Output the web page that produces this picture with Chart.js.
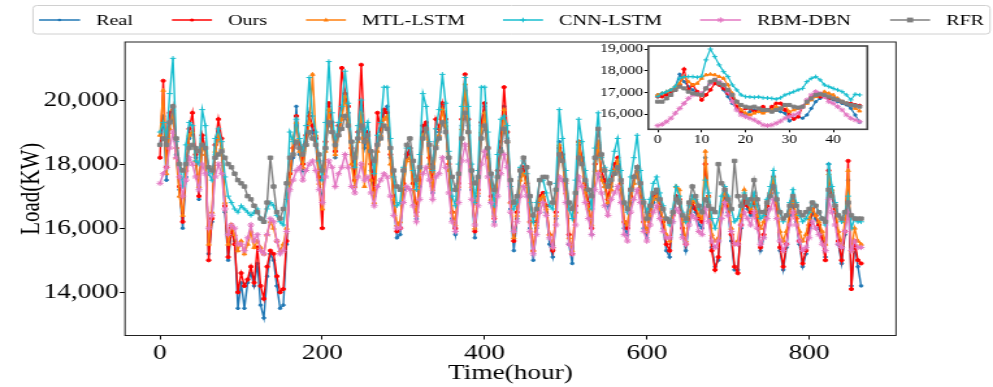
<!DOCTYPE html>
<html><head><meta charset="utf-8">
<script src="https://cdn.jsdelivr.net/npm/chart.js@4.4.1/dist/chart.umd.min.js"></script>
<style>
html,body{margin:0;padding:0;background:#fff;overflow:hidden}
#wrap{position:relative;width:993px;height:387px}
canvas{position:absolute;left:0;top:0}
</style></head><body>
<div id="wrap">
<canvas id="main" width="764" height="387" style="width:993px;height:387px"></canvas>
<canvas id="inset" width="764" height="387" style="width:993px;height:387px"></canvas>
</div>
<script>
// ---------------- DATA ----------------
const seriesNames = ['Real', 'Ours', 'MTL-LSTM', 'CNN-LSTM', 'RBM-DBN', 'RFR'];
const xTicks = [0, 200, 400, 600, 800];
const yTicks = [14000, 16000, 18000, 20000];
const insetXTicks = [0, 10, 20, 30, 40];
const insetYTicks = [16000, 17000, 18000, 19000];

// main panel: one reading every 4 hours (hour 0 ... 864)
const hours = [];
for (let h = 0; h <= 864; h += 4) hours.push(h);

const real = [
18600,19500,17500,19300,19400,18300,17200,16000,17600,18800,
19000,18200,16900,18800,18300,15200,16200,18300,19000,18400,
16500,15000,15900,15600,13500,14300,13500,14300,14600,14200,
14900,13600,13200,14500,15200,15000,14200,13500,13600,15500,
17500,18200,19800,18300,17800,18700,19600,19000,18600,17500,
16800,18500,19800,19200,18200,19000,19500,20200,19600,18300,
17300,18800,19700,18500,18900,17800,17000,18600,19000,19600,
19800,18200,16800,15700,15800,17200,18200,18400,17200,16300,
17300,19000,19200,18000,17100,18700,19000,19800,19300,17800,
16300,15800,17200,19200,20300,19200,17200,15700,17000,19200,
19800,18300,16800,16200,17600,18500,19800,18800,16600,15300,
16300,17600,17800,17300,16000,15000,16000,16900,17000,16500,
15500,15100,16300,18700,18200,17200,15500,14900,16500,18600,
18100,17200,16600,15800,17800,18500,17600,17300,16700,17300,
17800,18000,17200,16000,15800,16800,17400,17800,17000,16000,
15700,16300,16800,17000,16500,16000,15300,15100,16200,16900,
16800,15800,15300,16200,16700,16500,16100,16000,18200,16800,
15400,14800,15000,16500,17000,16500,15600,14700,14700,16000,
16900,16600,16400,16900,16200,15300,15700,16600,17000,17500,
16600,15300,14700,15400,16400,16800,16200,15500,14800,15200,
16000,16500,16300,16000,15600,15100,18000,17000,16500,15500,
14900,15800,17500,14200,15500,14800,14200];

const ours = [
18200,20600,17900,19600,19800,18500,17300,16200,17800,19100,
19600,18300,17000,18900,18500,15000,16300,18600,19400,18800,
16700,15100,16000,15500,14000,14600,14200,14400,14800,14300,
15400,14200,13800,14800,15300,15200,14500,14000,14100,15600,
17700,18500,19500,18600,18000,18900,19500,19200,18800,17600,
16000,18700,19900,19300,18400,19200,21000,20200,19800,18500,
17500,19000,21100,18800,19000,18000,17200,19600,19100,19700,
19600,18300,17000,15900,16000,17400,18300,18500,17400,16500,
17500,19200,19300,18200,17300,19400,19100,19900,19400,18000,
16500,16000,17400,19400,20800,19400,17400,15900,17200,19300,
19900,18500,17000,16300,17800,18700,20400,19000,16800,15600,
16500,17800,17900,17400,16200,15300,16200,17000,17100,16700,
15800,15300,16500,18500,18300,17400,15800,15200,16700,18700,
18200,17400,16800,16000,18000,18600,17800,17500,16900,17500,
18000,18200,17400,16200,16000,17000,17600,17900,17200,16200,
15900,16500,17000,17100,16700,16200,15500,15300,16400,17000,
16900,16000,15500,16400,16800,16600,16300,16200,18000,17000,
15300,14700,15100,16600,17100,16700,15800,14800,14600,16100,
17000,16700,16500,17000,16300,15400,15800,16700,17100,17600,
16700,15400,14800,15500,16500,16900,16300,15600,14900,15300,
16100,16600,16400,16100,15700,15000,17800,17100,16600,15600,
15000,15900,18100,14100,15600,15000,14900];

const mtlLstm = [
18900,20300,17700,19100,19700,18200,17000,16400,17800,18900,
19000,18100,17300,18600,18300,15500,16500,18400,18900,18500,
16800,15500,16100,15800,15300,15600,15200,15500,15900,15400,
15600,15400,15200,15800,16200,16000,15600,15300,15500,16000,
17500,18800,19300,18400,17900,18600,19300,20800,18900,17400,
16600,18400,19700,19000,18300,18900,19400,20100,19300,18000,
17300,18700,19600,17300,18800,17500,16800,18400,18900,19400,
19500,18000,16900,16100,16200,17300,18100,18200,17200,16400,
17400,18900,19100,17900,17200,18600,18900,19700,19200,17800,
16500,16100,17300,19100,20500,19000,17300,16000,17100,19000,
19600,18200,16900,16400,17600,18400,19700,18700,16800,15700,
16400,17500,17700,17300,16200,15300,16100,16900,17000,16600,
15800,15400,16400,18600,18100,17100,15700,15300,16500,18700,
18000,17100,16600,16100,17800,18700,17500,17300,16800,17200,
17800,18100,17200,16200,16100,16900,17400,17800,17100,16200,
15900,16400,16900,17000,16600,16300,15800,15600,16500,17300,
17200,16200,15600,16400,16900,16800,16400,16300,18400,17000,
15800,15600,15700,16700,17100,16800,16000,15500,15600,16400,
17200,16800,16600,17000,16400,16000,16200,16800,17100,17600,
16800,15900,15600,15900,16500,16900,16400,15900,15600,15800,
16300,16600,16400,16200,15900,15500,17700,17200,16700,15900,
15500,16200,17800,15300,16000,15600,15500];

const cnnLstm = [
19000,19300,18800,20200,21300,18700,18000,17300,18600,19300,
19200,18100,18000,19700,19200,17700,17500,18800,19100,18700,
17600,17000,16800,16600,16500,16700,16600,16500,16400,16500,
16600,16300,16200,16600,16800,16700,16400,16200,16100,16900,
19000,18700,19400,18800,18400,19200,20700,19500,19000,18100,
17500,19300,21200,19600,18600,19300,19800,20900,19900,18700,
17900,19200,20000,18900,19300,18400,17700,18900,19300,20400,
20400,18800,17600,16700,16800,17900,18500,18500,17800,17200,
18300,20200,19800,18700,17800,19100,19700,20800,19900,18400,
17000,16700,18000,19800,20700,19800,18000,16800,17800,20400,
20400,19000,17600,16700,18300,19400,19500,19200,17300,16600,
16800,17900,18100,17700,16800,16200,16800,17500,17500,17100,
16700,16600,17400,19700,18800,17800,16600,16300,17500,19400,
18700,17800,17200,16600,18500,19600,18200,17900,17400,17800,
18400,18800,17800,16800,16500,17600,18200,18900,17800,16900,
16500,16900,17400,17600,17100,16700,16300,16100,16600,17300,
17000,16500,16200,16700,17000,16900,16600,16500,17500,17100,
16300,16000,16300,17000,17300,17000,16600,16200,16300,16700,
17100,16900,16700,17100,16700,16300,16400,16900,17300,17800,
17100,16500,16200,16400,16800,17200,16800,16400,16200,16300,
16500,16800,16700,16500,16300,16100,18000,17300,16800,16400,
16200,16500,17000,16000,16300,16200,16200];

const rbmDbn = [
17400,17700,17900,18500,19000,18200,17600,17000,17500,18200,
18000,17600,17200,18000,17700,16000,16400,17600,18000,17700,
16600,15800,16100,16000,15500,15500,15300,15700,16100,15600,
15800,15300,15200,15800,16300,16200,15600,15200,15300,15900,
17200,17500,17800,17900,17500,17800,18000,18100,17800,17200,
16800,17600,18100,17900,17300,17700,17900,18300,17900,17300,
17100,17600,18000,17500,17600,17100,16700,17300,17500,17700,
17600,17000,16400,16000,16000,16800,17300,17200,16700,16200,
16900,17700,17900,17500,16900,17600,17700,18200,17900,17100,
16200,15900,16800,18100,18600,18100,16900,16100,16700,18000,
18400,17600,16800,16100,17000,17700,18300,17900,16500,15900,
16200,17000,17300,17000,15900,15200,15800,16500,16800,16400,
15700,15400,16100,17600,17500,16800,15500,15200,16100,17600,
17300,16800,16300,15800,17200,17700,17100,16700,16400,16900,
17100,17300,16800,15800,15600,16500,16900,17200,16800,15900,
15600,16100,16500,16700,16300,15900,15700,15700,16200,16600,
16500,15700,15500,16100,16400,16300,15900,15800,16600,16200,
15600,15400,15600,16300,16800,16400,15900,15500,15500,16100,
16500,16300,16100,16500,16000,15500,15700,16300,16600,16900,
16300,15600,15300,15500,16100,16500,16100,15600,15300,15400,
15700,16200,16000,15800,15500,15300,16900,16500,16100,15500,
15400,15900,16500,15300,15600,15400,15400];

const rfr = [
18600,18800,18600,19300,19800,18800,18000,17800,18000,18500,
18600,18500,18400,18600,18500,17900,17800,18200,18300,18400,
18200,18000,17900,17700,17500,17400,17300,17000,16900,16700,
16500,16300,16200,16800,18200,17300,16500,16300,16600,17400,
18200,18300,18700,18500,18300,18600,19000,18800,18600,18300,
17800,18500,19300,19000,18600,18900,19100,19500,19200,18700,
18200,18800,19200,18700,18900,18400,18100,18600,18800,19200,
19100,18500,17800,17300,17200,17800,18600,18800,18100,17500,
17900,18800,19100,18600,17900,18500,18800,19300,19000,18200,
17600,17200,17700,18800,19600,19000,17800,17400,17600,18800,
19200,18500,17700,17200,17600,18400,19100,18700,17500,16800,
17000,17800,18200,17900,17000,16400,16600,17500,17600,17600,
17400,16800,17200,18300,18100,17500,16800,16600,17100,18200,
18000,17500,17200,17000,18200,19100,18300,17800,17300,17500,
17700,17900,17500,16800,16600,17200,17600,17900,17400,16800,
16300,16700,17100,17200,16900,16600,16300,16200,16500,16900,
16800,16400,16300,16800,17300,17000,16700,16500,16900,16700,
16600,16500,18000,17400,17200,16900,16600,18100,17000,16700,
17000,16800,16900,17500,16900,16500,16500,16800,17000,17300,
16900,16500,16300,16400,16700,17000,16700,16500,16400,16500,
16600,16800,16700,16500,16300,16200,17200,17000,16700,16400,
16300,16500,16800,16400,16300,16300,16300];

// inset panel: hours 0 ... 46
const insetHours = [];
for (let h = 0; h <= 46; h++) insetHours.push(h);
const insetReal = [16890,16960,16960,17120,17270,17840,17500,17270,17120,16960,
16890,17190,17500,17580,17350,17120,16810,16500,16270,16050,
15970,16120,16200,16120,16120,16200,16270,16200,16120,16050,
15690,15820,15890,15820,15970,16270,16580,16730,16810,16730,
16660,16580,16500,16430,16270,15970,15630];
const insetOurs = [16810,16810,16890,17040,17120,17350,18070,17120,17350,17040,
16660,16890,17120,17420,17350,17190,16960,16730,16350,16120,
16270,16270,16120,16200,16350,16200,16350,16500,16500,16200,
15970,15780,15890,16350,16580,16810,16890,16810,16810,16730,
16730,16660,16580,16500,16500,16430,16400];
const insetMtl = [16890,16960,17040,17120,17270,17420,17730,17500,17350,17420,
17650,17810,17840,17810,17730,17650,17350,16960,16580,16200,
16050,15970,16050,16120,16050,16150,16200,16350,16270,16430,
16120,16200,16270,16350,16500,16660,16810,16890,17040,16960,
16890,16730,16580,16500,16430,16270,16150];
const insetCnn = [16810,16960,17040,17120,17270,17650,17730,17730,17730,17700,
17750,18500,19000,18650,18270,17960,17730,17350,17120,16890,
16810,16800,16780,16800,16760,16750,16730,16700,16760,16890,
16960,17040,17120,17190,17500,17650,17730,17580,17350,17270,
17190,17120,17040,16890,16660,16920,16890];
const insetRbm = [15480,15540,15660,15820,16050,16270,16500,16730,16890,16920,
16960,17190,17420,17580,17500,17350,17040,16580,16200,15970,
15890,15820,15740,15630,15510,15480,15510,15590,15690,15820,
15890,15970,16050,16350,16660,16890,17040,16960,16810,16580,
16500,16350,16200,15970,15820,15740,15660];
const insetRfr = [16580,16580,16730,16890,17120,17270,17190,17040,16960,16920,
16890,17190,17500,17580,17420,17350,17120,16890,16580,16430,
16350,16310,16350,16270,16200,16200,16120,16200,16270,16430,
16430,16350,16310,16350,16580,16730,16890,16920,16890,16810,
16730,16660,16580,16500,16430,16400,16350];

// ---------------- STYLE ----------------
const SX = 764 / 993;            // canvases are drawn 764 wide and shown 993 wide
const FONT = 'Liberation Serif, "Times New Roman", serif';
const styles = [
  {color:'#1f77b4', point:'circle',   r:1.3, order:6},
  {color:'#ff0000', point:'circle',   r:1.6, order:5},
  {color:'#ff7f0e', point:'triangle', r:2.0, order:4},
  {color:'#17becf', point:'cross',    r:2.3, order:3},
  {color:'#e377c2', point:'star',     r:2.7, order:2},
  {color:'#7f7f7f', point:'rect',     r:2.4, order:1}
];
const MAIN = {left:125*SX, right:896*SX, top:42, bottom:335.5};
const INSET = {left:648.3*SX, right:867.3*SX, top:46, bottom:129.3};

function makeDatasets(xs, arrays, lw, scaleR) {
  return arrays.map((arr, i) => ({
    label: seriesNames[i],
    data: arr.map((v, k) => ({x: xs[k], y: v})),
    borderColor: styles[i].color,
    backgroundColor: styles[i].color,
    pointBackgroundColor: styles[i].color,
    pointBorderColor: styles[i].color,
    pointStyle: styles[i].point,
    pointRadius: styles[i].r * scaleR,
    pointBorderWidth: 1,
    borderWidth: lw,
    tension: 0,
    order: styles[i].order
  }));
}

function drawMarker(ctx, style, x, y, r, color) {
  ctx.save();
  ctx.fillStyle = color; ctx.strokeStyle = color; ctx.lineWidth = 1;
  ctx.beginPath();
  if (style === 'circle') { ctx.arc(x, y, r, 0, Math.PI*2); ctx.fill(); }
  else if (style === 'rect') { ctx.fillRect(x-r, y-r, 2*r, 2*r); }
  else if (style === 'triangle') {
    ctx.moveTo(x, y-r*1.2); ctx.lineTo(x+r, y+r*0.8); ctx.lineTo(x-r, y+r*0.8); ctx.closePath(); ctx.fill();
  } else if (style === 'cross') {
    ctx.moveTo(x-r, y); ctx.lineTo(x+r, y); ctx.moveTo(x, y-r); ctx.lineTo(x, y+r); ctx.stroke();
  } else if (style === 'star') {
    const d = r*0.707;
    ctx.moveTo(x-r, y); ctx.lineTo(x+r, y); ctx.moveTo(x, y-r); ctx.lineTo(x, y+r);
    ctx.moveTo(x-d, y-d); ctx.lineTo(x+d, y+d); ctx.moveTo(x-d, y+d); ctx.lineTo(x+d, y-d); ctx.stroke();
  }
  ctx.restore();
}

const legendPos = [
  {x0:30.0, x1:61.6, tx:73.9},
  {x0:132.3, x1:163.1, tx:175.4},
  {x0:235.4, x1:266.2, tx:278.5},
  {x0:387.0, x1:417.8, tx:430.1},
  {x0:538.6, x1:570.1, tx:582.4},
  {x0:684.8, x1:715.6, tx:727.9}
];

const framePlugin = (lw, col) => ({
  id: 'frame',
  beforeDatasetsDraw(chart, args, opts) {
    if (opts && opts.fill) {
      const a = chart.chartArea; const c = chart.ctx;
      c.save(); c.fillStyle = '#fff'; c.fillRect(a.left, a.top, a.right-a.left, a.bottom-a.top); c.restore();
    }
  },
  afterDraw(chart) {
    const a = chart.chartArea; const c = chart.ctx;
    c.save(); c.strokeStyle = col; c.lineWidth = lw;
    c.strokeRect(a.left, a.top, a.right-a.left, a.bottom-a.top); c.restore();
  }
});

const legendPlugin = {
  id: 'customLegend',
  afterDraw(chart) {
    const c = chart.ctx;
    c.save();
    const x0 = 25.4, y0 = 5.5, x1 = 761.7, y1 = 34, rr = 3;
    c.beginPath();
    c.moveTo(x0+rr, y0); c.lineTo(x1-rr, y0); c.quadraticCurveTo(x1, y0, x1, y0+rr);
    c.lineTo(x1, y1-rr); c.quadraticCurveTo(x1, y1, x1-rr, y1);
    c.lineTo(x0+rr, y1); c.quadraticCurveTo(x0, y1, x0, y1-rr);
    c.lineTo(x0, y0+rr); c.quadraticCurveTo(x0, y0, x0+rr, y0);
    c.fillStyle = 'rgba(255,255,255,0.85)'; c.fill();
    c.strokeStyle = '#d0d0d0'; c.lineWidth = 1; c.stroke();
    c.font = '15.5px ' + FONT; c.fillStyle = '#000'; c.textBaseline = 'middle'; c.textAlign = 'left';
    seriesNames.forEach((name, i) => {
      const p = legendPos[i], s = styles[i], y = 20;
      c.strokeStyle = s.color; c.lineWidth = 1.5;
      c.beginPath(); c.moveTo(p.x0, y); c.lineTo(p.x1, y); c.stroke();
      drawMarker(c, s.point, (p.x0+p.x1)/2, y, s.r, s.color);
      c.fillStyle = '#000';
      c.fillText(name, p.tx, y + 0.5);
    });
    c.restore();
  }
};

const fmt = v => Number(v).toLocaleString('en-US');

// ---------------- MAIN CHART ----------------
new Chart(document.getElementById('main'), {
  type: 'line',
  data: { datasets: makeDatasets(hours, [real, ours, mtlLstm, cnnLstm, rbmDbn, rfr], 1.4, 1) },
  options: {
    responsive: false, animation: false, devicePixelRatio: 1,
    layout: { padding: { left: 8, right: 764 - MAIN.right, top: MAIN.top, bottom: 0 } },
    plugins: { legend: { display: false }, tooltip: { enabled: false } },
    scales: {
      x: {
        type: 'linear', min: -43.1, max: 907,
        afterBuildTicks: s => { s.ticks = xTicks.map(v => ({value: v})); },
        afterFit: s => { s.height = 387 - MAIN.bottom; },
        grid: { display: true, drawOnChartArea: false, drawTicks: true, tickLength: 4, tickColor: '#000', tickWidth: 1 },
        border: { display: false },
        ticks: { font: { family: FONT, size: 21 }, color: '#000', padding: 1, maxRotation: 0, autoSkip: false, callback: v => String(v) },
        title: { display: true, text: 'Time(hour)', font: { family: FONT, size: 21 }, color: '#000', padding: { top: 0, bottom: 1 } }
      },
      y: {
        type: 'linear', min: 12652, max: 21810,
        afterBuildTicks: s => { s.ticks = yTicks.map(v => ({value: v})); },
        afterFit: s => { s.width = MAIN.left - 8; },
        grid: { display: true, drawOnChartArea: false, drawTicks: true, tickLength: 4, tickColor: '#000', tickWidth: 1 },
        border: { display: false },
        ticks: { font: { family: FONT, size: 21 }, color: '#000', padding: 1, autoSkip: false, callback: fmt },
        title: { display: true, text: 'Load(KW)', font: { family: FONT, size: 21 }, color: '#000', padding: { top: 4, bottom: 0 } }
      }
    }
  },
  plugins: [framePlugin(1, '#222'), legendPlugin]
});

// ---------------- INSET CHART ----------------
new Chart(document.getElementById('inset'), {
  type: 'line',
  data: { datasets: makeDatasets(insetHours, [insetReal, insetOurs, insetMtl, insetCnn, insetRbm, insetRfr], 1.2, 0.9) },
  options: {
    responsive: false, animation: false, devicePixelRatio: 1,
    layout: { padding: { left: 0, right: 764 - INSET.right, top: INSET.top, bottom: 0 } },
    plugins: { legend: { display: false }, tooltip: { enabled: false }, frame: { fill: true } },
    scales: {
      x: {
        type: 'linear', min: -2.14, max: 47.75,
        afterBuildTicks: s => { s.ticks = insetXTicks.map(v => ({value: v})); },
        afterFit: s => { s.height = 387 - INSET.bottom; },
        grid: { display: true, drawOnChartArea: false, drawTicks: true, tickLength: 3, tickColor: '#000', tickWidth: 1 },
        border: { display: false },
        ticks: { font: { family: FONT, size: 12 }, color: '#000', padding: 0, maxRotation: 0, autoSkip: false, callback: v => String(v) }
      },
      y: {
        type: 'linear', min: 15311, max: 19138,
        afterBuildTicks: s => { s.ticks = insetYTicks.map(v => ({value: v})); },
        afterFit: s => { s.width = INSET.left; },
        grid: { display: true, drawOnChartArea: false, drawTicks: true, tickLength: 3, tickColor: '#000', tickWidth: 1 },
        border: { display: false },
        ticks: { font: { family: FONT, size: 12 }, color: '#000', padding: 1, autoSkip: false, callback: fmt }
      }
    }
  },
  plugins: [framePlugin(1.6, '#444')]
});
</script>
</body></html>
